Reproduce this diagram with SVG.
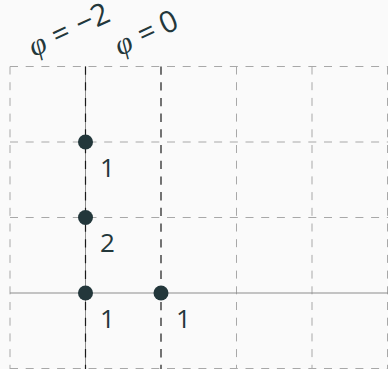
<svg xmlns="http://www.w3.org/2000/svg" width="388" height="369" viewBox="0 0 388 369">
<style>
.grid{stroke:#a8a8a8;stroke-width:1;stroke-dasharray:8 7.7;fill:none}
.axis{stroke:#8c8c8c;stroke-width:1;fill:none}
.phi{stroke:#1a1a1a;stroke-width:1.2;stroke-dasharray:8.3 7.4;fill:none}
.dot{fill:#23373b}
.lbl{font-family:"Open Sans","Noto Sans",sans-serif;font-size:26px;fill:#23373b}
.eq{font-family:"Open Sans","DejaVu Sans",sans-serif;font-size:30px;fill:#23373b}
.var{font-family:"Liberation Serif","DejaVu Serif",serif;font-style:italic}
</style>
<rect width="388" height="369" fill="#fafafa"/>
<g id="grid">
<path class="grid" d="M10,66.5H388M10,142H388M10,217.5H388M10,368.5H388"/>
<path class="grid" d="M10,66.5V369M236.5,66.5V369M312,66.5V369M387.5,66.5V369"/>
</g>
<g id="connectors">
<path class="axis" d="M10,293H388"/>
<path class="axis" d="M85.5,66.5V369"/>
<path class="phi" d="M85.5,66.5V369"/>
<path class="phi" d="M161,66.5V369"/>
</g>
<g id="n1"><circle class="dot" cx="85.5" cy="142" r="7.5"/><text class="lbl" x="100" y="177">1</text></g>
<g id="n2"><circle class="dot" cx="85.5" cy="217.5" r="7.5"/><text class="lbl" x="100" y="252">2</text></g>
<g id="n3"><circle class="dot" cx="85.5" cy="293" r="7.5"/><text class="lbl" x="100" y="328">1</text></g>
<g id="n4"><circle class="dot" cx="161" cy="293" r="7.5"/><text class="lbl" x="176" y="328">1</text></g>
<g id="label-m2"><text class="eq" transform="translate(34,57) rotate(-25)"><tspan class="var">φ</tspan><tspan dx="9">=</tspan><tspan dx="9">−2</tspan></text></g>
<g id="label-0"><text class="eq" transform="translate(120,56) rotate(-25)"><tspan class="var">φ</tspan><tspan dx="9">=</tspan><tspan dx="7">0</tspan></text></g>
</svg>
